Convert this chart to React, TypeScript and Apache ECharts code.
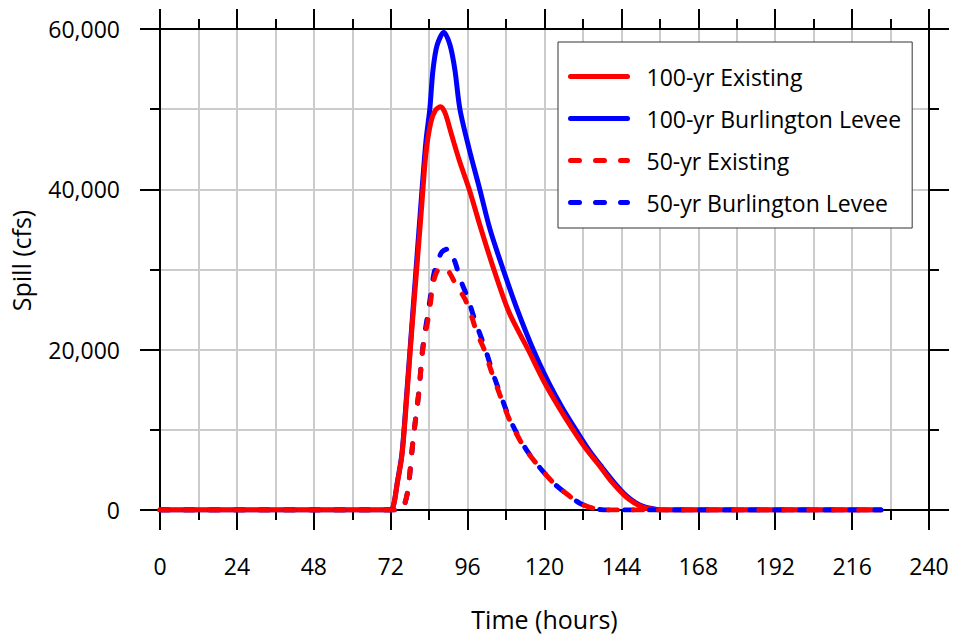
import { useEffect, useRef } from "react";
import * as echarts from "echarts";

const FONT = "'Open Sans', 'Noto Sans', sans-serif";

// Axis settings
const xMin = 0;
const xMax = 240;
const xStep = 24;
const yMin = 0;
const yMax = 60000;
const yStep = 20000;

const seriesNames = [
  "100-yr Existing",
  "100-yr Burlington Levee",
  "50-yr Existing",
  "50-yr Burlington Levee",
];

// [hours, cfs]
const existing100: [number, number][] = [
  [0, 0], [72, 0], [73, 800], [74, 3200], [75.5, 6800], [77, 14000], [78.5, 22000],
  [80, 29500], [81.5, 37000], [83, 44500], [84.5, 48300], [86, 49900], [87.6, 50300],
  [89, 49500], [91, 46800], [93.5, 43500], [96.5, 40000], [100, 35300], [104.2, 30000],
  [109, 24600], [114.9, 20000], [120, 15900], [124.5, 12800], [128.9, 10000], [133, 7600],
  [137.2, 5500], [141, 3500], [145, 1800], [148, 900], [150.7, 370], [154, 80], [158, 0],
  [225, 0],
];

const levee100: [number, number][] = [
  [0, 0], [72, 0], [73, 800], [74, 3300], [75.5, 7000], [77, 14500], [78.5, 22500],
  [80, 30500], [81.5, 38500], [83, 46000], [84.2, 50000], [85.2, 54900], [86.5, 58000],
  [88.6, 59600], [90.5, 58000], [92, 55000], [93.6, 50000], [96.5, 45000], [99.8, 40000],
  [103, 35000], [107.1, 30000], [111.5, 25000], [116.5, 20000], [121.3, 15900],
  [125.5, 12800], [129.8, 10000], [134, 7400], [138, 5300], [142, 3300], [145.5, 1800],
  [148.5, 900], [151.5, 350], [155, 80], [158, 0], [225, 0],
];

const existing50: [number, number][] = [
  [0, 0], [75, 0], [76, 300], [77.4, 2600], [79, 8800], [80.8, 14700], [82, 20000],
  [84, 24600], [85.2, 28100], [86.5, 29800], [88.9, 30300], [90.5, 29500], [92.5, 28000],
  [95.2, 26300], [97.2, 24200], [99, 22000], [101.2, 20000], [103.5, 17200], [106.6, 13800],
  [108.5, 11800], [110.6, 10000], [114, 7600], [118.5, 5300], [123, 3300], [127.9, 1700],
  [131, 850], [134.2, 330], [137, 80], [140, 0], [225, 0],
];

const levee50: [number, number][] = [
  [0, 0], [75, 0], [76, 300], [77.4, 2600], [79, 8800], [80.8, 14800], [82, 20200],
  [84, 25500], [85.5, 29500], [86.7, 31000], [88, 32200], [90.2, 32600], [92, 31000],
  [94, 28500], [96.2, 26300], [98, 24000], [101.6, 20000], [103.8, 17200], [106.8, 13800],
  [108.7, 11800], [110.8, 10000], [114.2, 7600], [118.5, 5300], [123, 3300], [127.9, 1700],
  [131, 850], [134.2, 330], [137, 80], [140, 0], [225, 0],
];

const RED = "#ff0000";
const BLUE = "#0000ff";
const GRID_GRAY = "#cccccc";

function lineSeries(name: string, data: [number, number][], color: string, dashed: boolean) {
  return {
    name,
    type: "line",
    data,
    xAxisIndex: 0,
    yAxisIndex: 0,
    symbol: "none",
    showSymbol: false,
    smooth: 0.3,
    itemStyle: { color },
    lineStyle: {
      color,
      width: 5,
      cap: "round",
      join: "round",
      type: dashed ? [9, 16] : "solid",
    },
  };
}

export default function App() {
  const ref = useRef<HTMLDivElement>(null);

  useEffect(() => {
    if (!ref.current) return;
    const chart = echarts.init(ref.current, null, { renderer: "svg" });

    const axisLine = { show: true, onZero: false, lineStyle: { color: "#000", width: 2 } };
    const axisTick = { show: true, inside: false, length: 20, lineStyle: { color: "#000", width: 2 } };
    const minorTick = { show: true, splitNumber: 2, length: 10, lineStyle: { color: "#000", width: 2 } };
    const splitLine = { show: true, lineStyle: { color: GRID_GRAY, width: 2 } };

    chart.setOption({
      animation: false,
      backgroundColor: "#ffffff",
      textStyle: { fontFamily: FONT, color: "#000" },
      grid: { left: 160, right: 26, top: 29, bottom: 125, containLabel: false },
      legend: {
        show: true,
        orient: "vertical",
        left: 558,
        top: 42,
        backgroundColor: "#ffffff",
        borderColor: "#333333",
        borderWidth: 1,
        borderRadius: 0,
        padding: [23, 11, 14, 10],
        itemWidth: 57,
        itemHeight: 14,
        itemGap: 19,
        textStyle: { fontSize: 23, fontFamily: FONT, color: "#000", padding: [0, 0, 0, 14] },
        itemStyle: { opacity: 0 },
        lineStyle: { width: 5, cap: "round" },
        data: seriesNames.map((name) => ({ name })),
      },
      xAxis: [
        {
          type: "value",
          position: "bottom",
          min: xMin,
          max: xMax,
          interval: xStep,
          axisLine,
          axisTick,
          minorTick,
          splitLine,
          minorSplitLine: splitLine,
          axisLabel: { fontSize: 23, color: "#000", fontFamily: FONT, margin: 44 },
          name: "Time (hours)",
          nameLocation: "middle",
          nameGap: 96,
          nameTextStyle: { fontSize: 25, color: "#000", fontFamily: FONT },
        },
        {
          type: "value",
          position: "top",
          min: xMin,
          max: xMax,
          interval: xStep,
          axisLine,
          axisTick,
          minorTick,
          splitLine: { show: false },
          axisLabel: { show: false },
        },
      ],
      yAxis: [
        {
          type: "value",
          position: "left",
          min: yMin,
          max: yMax,
          interval: yStep,
          axisLine,
          axisTick,
          minorTick,
          splitLine,
          minorSplitLine: splitLine,
          axisLabel: {
            fontSize: 23,
            color: "#000",
            fontFamily: FONT,
            margin: 40,
            formatter: (v: number) => v.toLocaleString("en-US"),
          },
          name: "Spill (cfs)",
          nameLocation: "middle",
          nameGap: 127,
          nameRotate: 90,
          nameTextStyle: { fontSize: 25, color: "#000", fontFamily: FONT, padding: [0, 0, 0, 18] },
        },
        {
          type: "value",
          position: "right",
          min: yMin,
          max: yMax,
          interval: yStep,
          axisLine,
          axisTick,
          minorTick,
          splitLine: { show: false },
          axisLabel: { show: false },
        },
      ],
      series: [
        lineSeries(seriesNames[1], levee100, BLUE, false),
        lineSeries(seriesNames[0], existing100, RED, false),
        lineSeries(seriesNames[3], levee50, BLUE, true),
        lineSeries(seriesNames[2], existing50, RED, true),
      ],
    });

    return () => chart.dispose();
  }, []);

  return (
    <div
      ref={ref}
      style={{ position: "absolute", left: 0, top: 0, width: 955, height: 636 }}
    />
  );
}
